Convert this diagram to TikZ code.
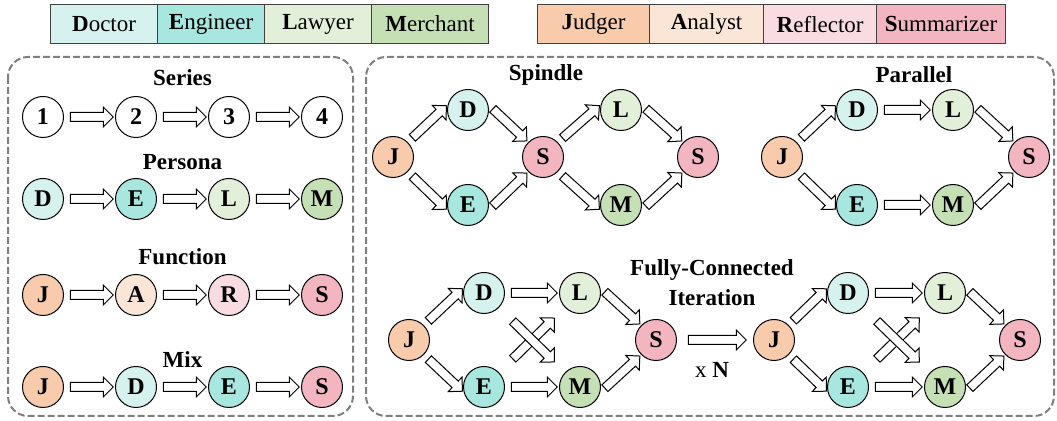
\documentclass[tikz,border=0pt]{standalone}
\usepackage{fontspec}
\setmainfont{Liberation Serif}
\usetikzlibrary{calc,shapes.arrows}
\definecolor{docC}{HTML}{D5F2EF}
\definecolor{engC}{HTML}{A8E6E0}
\definecolor{lawC}{HTML}{E2F0D9}
\definecolor{merC}{HTML}{C5E0B4}
\definecolor{judC}{HTML}{F8CBAD}
\definecolor{anaC}{HTML}{FBE5D6}
\definecolor{refC}{HTML}{F9DCE1}
\definecolor{sumC}{HTML}{F3B6C1}
\tikzset{
  agent/.style={circle, draw, line width=0.5pt, minimum size=20.5pt, inner sep=0pt,
    font=\fontsize{12}{12}\selectfont\bfseries},
  flowarrow/.style={single arrow, draw, fill=white, line width=0.5pt, inner xsep=0pt, inner ysep=2pt,
    minimum width=9.5pt, single arrow head extend=2.75pt, single arrow tip angle=90},
  panel/.style={draw=black!50, line width=1pt, dash pattern=on 3.5pt off 1.5pt, rounded corners=10pt},
  role/.style={draw=black!75, line width=0.6pt, minimum height=19.5pt, inner sep=0pt,
    anchor=north west, font=\fontsize{11.5}{11.5}\selectfont},
  title/.style={font=\fontsize{11.5}{11.5}\selectfont\bfseries}
}
% hollow block arrow between two points, shortened by #1 at both ends
\newcommand{\flow}[3][2pt]{%
  \path let \p1=($(#2)!#1!(#3)$), \p2=($(#3)!#1!(#2)$),
    \n1={atan2(\y2-\y1,\x2-\x1)}, \n2={veclen(\x2-\x1,\y2-\y1)} in
    node[flowarrow, minimum height=\n2, rotate=\n1] at ($(\p1)!0.5!(\p2)$) {};}
\begin{document}
\begin{tikzpicture}[x=0.5pt, y=-0.5pt]
    \useasboundingbox (0,0) rectangle (1057,421);
    % legends
    \node[role, fill=docC, minimum width=53.5pt] (legD) at (50,4) {\textbf{D}octor};
    \node[role, fill=engC, minimum width=53.5pt] (legE) at (157,4) {\textbf{E}ngineer};
    \node[role, fill=lawC, minimum width=53.5pt] (legL) at (264,4) {\textbf{L}awyer};
    \node[role, fill=merC, minimum width=58.5pt] (legM) at (371,4) {\textbf{M}erchant};
    \node[role, fill=judC, minimum width=56pt] (legJ) at (537,4) {\textbf{J}udger};
    \node[role, fill=anaC, minimum width=57pt] (legA) at (649,4) {\textbf{A}nalyst};
    \node[role, fill=refC, minimum width=56.5pt] (legR) at (763,4) {\textbf{R}eflector};
    \node[role, fill=sumC, minimum width=64.5pt] (legS) at (876,4) {\textbf{S}ummarizer};
    % panels
    \draw[panel] (8,57) rectangle (353,416);
    \draw[panel] (366,57) rectangle (1054,416);

    % left panel: chains
    \node[title] (series) at (182.5,78) {Series};
    \node[agent] (s1) at (43,117) {1};
    \node[agent] (s2) at (136,117) {2};
    \node[agent] (s3) at (229,117) {3};
    \node[agent] (s4) at (322,117) {4};
    \flow{s1.east}{s2.west} \flow{s2.east}{s3.west} \flow{s3.east}{s4.west}

    \node[title] (persona) at (182.5,162) {Persona};
    \node[agent, fill=docC] (p1) at (43,199) {D};
    \node[agent, fill=engC] (p2) at (136,199) {E};
    \node[agent, fill=lawC] (p3) at (229,199) {L};
    \node[agent, fill=merC] (p4) at (322,199) {M};
    \flow{p1.east}{p2.west} \flow{p2.east}{p3.west} \flow{p3.east}{p4.west}

    \node[title] (function) at (182.5,257) {Function};
    \node[agent, fill=judC] (f1) at (43,295) {J};
    \node[agent, fill=anaC] (f2) at (136,295) {A};
    \node[agent, fill=refC] (f3) at (229,295) {R};
    \node[agent, fill=sumC] (f4) at (322,295) {S};
    \flow{f1.east}{f2.west} \flow{f2.east}{f3.west} \flow{f3.east}{f4.west}

    \node[title] (mix) at (182.5,360) {Mix};
    \node[agent, fill=judC] (m1) at (43,387) {J};
    \node[agent, fill=docC] (m2) at (136,387) {D};
    \node[agent, fill=engC] (m3) at (229,387) {E};
    \node[agent, fill=sumC] (m4) at (322,387) {S};
    \flow{m1.east}{m2.west} \flow{m2.east}{m3.west} \flow{m3.east}{m4.west}

    % spindle
    \node[title] (spindle) at (546,75) {Spindle};
    \node[agent, fill=judC] (spJ) at (393,157) {J};
    \node[agent, fill=docC] (spD) at (468,110) {D};
    \node[agent, fill=engC] (spE) at (468,205) {E};
    \node[agent, fill=sumC] (spS) at (543,157) {S};
    \node[agent, fill=lawC] (spL) at (621,110) {L};
    \node[agent, fill=merC] (spM) at (621,205) {M};
    \node[agent, fill=sumC] (spT) at (698,157) {S};
    \flow{spJ.45}{spD.165} \flow{spJ.315}{spE.195}
    \flow{spD.15}{spS.135} \flow{spE.345}{spS.225}
    \flow{spS.45}{spL.165} \flow{spS.315}{spM.195}
    \flow{spL.15}{spT.135} \flow{spM.345}{spT.225}

    % parallel
    \node[title] (parallel) at (914,75) {Parallel};
    \node[agent, fill=judC] (paJ) at (782,157) {J};
    \node[agent, fill=docC] (paD) at (857,110) {D};
    \node[agent, fill=engC] (paE) at (857,205) {E};
    \node[agent, fill=lawC] (paL) at (953,110) {L};
    \node[agent, fill=merC] (paM) at (953,205) {M};
    \node[agent, fill=sumC] (paS) at (1029,157) {S};
    \flow{paJ.45}{paD.165} \flow{paJ.315}{paE.195}
    \flow{paD.east}{paL.west} \flow{paE.east}{paM.west}
    \flow{paL.15}{paS.135} \flow{paM.345}{paS.225}

    % fully-connected iteration
    \node[title] (fctitle) at (712,270) {Fully-Connected};
    \node[title] (fciter) at (712,298) {Iteration};
    \node[agent, fill=judC] (fcJ) at (409,340) {J};
    \node[agent, fill=docC] (fcD) at (484,293) {D};
    \node[agent, fill=engC] (fcE) at (484,387) {E};
    \node[agent, fill=lawC] (fcL) at (580,293) {L};
    \node[agent, fill=merC] (fcM) at (580,387) {M};
    \node[agent, fill=sumC] (fcS) at (656,340) {S};
    \flow{fcJ.45}{fcD.165} \flow{fcJ.315}{fcE.195}
    \flow{fcD.east}{fcL.west} \flow{fcE.east}{fcM.west}
    \flow[19pt]{fcE}{fcL} \flow[19pt]{fcD}{fcM}
    \flow{fcL.15}{fcS.135} \flow{fcM.345}{fcS.225}

    \node[agent, fill=judC] (fbJ) at (774,340) {J};
    \node[agent, fill=docC] (fbD) at (848,293) {D};
    \node[agent, fill=engC] (fbE) at (848,387) {E};
    \node[agent, fill=lawC] (fbL) at (945,293) {L};
    \node[agent, fill=merC] (fbM) at (945,387) {M};
    \node[agent, fill=sumC] (fbS) at (1020,340) {S};
    \flow{fbJ.45}{fbD.165} \flow{fbJ.315}{fbE.195}
    \flow{fbD.east}{fbL.west} \flow{fbE.east}{fbM.west}
    \flow[19pt]{fbE}{fbL} \flow[19pt]{fbD}{fbM}
    \flow{fbL.15}{fbS.135} \flow{fbM.345}{fbS.225}

    \flow[4.5pt]{fcS.east}{fbJ.west}
    \node[font=\fontsize{11.5}{11.5}\selectfont] (times) at (712,370) {x \textbf{N}};
\end{tikzpicture}
\end{document}
